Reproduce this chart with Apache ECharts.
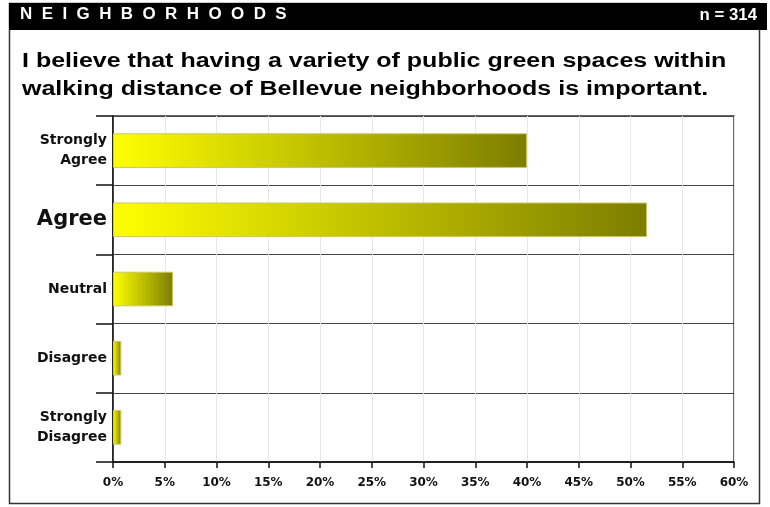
<!DOCTYPE html>
<html><head><meta charset="utf-8">
<script src="https://cdn.jsdelivr.net/npm/echarts@6/dist/echarts.min.js"></script>
<style>html,body{margin:0;padding:0;background:#fff}#c{width:770px;height:507px}</style>
</head><body><div id="c"></div>
<script>
const categories = ['Strongly\nAgree', 'Agree', 'Neutral', 'Disagree', 'Strongly\nDisagree'];
const values = [40.0, 51.6, 5.8, 0.8, 0.8];
const xTicks = [0, 5, 10, 15, 20, 25, 30, 35, 40, 45, 50, 55, 60];
const headerText = 'N  E  I  G  H  B  O  R  H  O  O  D  S';
const sampleText = 'n = 314';
const titleLines = ['I believe that having a variety of public green spaces within', 'walking distance of Bellevue neighborhoods is important.'];

const chart = echarts.init(document.getElementById('c'), null, {renderer: 'canvas'});
const F = '"Liberation Sans", Arial, sans-serif';
const FL = '"DejaVu Sans", sans-serif';
const barColor = new echarts.graphic.LinearGradient(0, 0, 1, 0, [
  {offset: 0, color: '#ffff00'}, {offset: 1, color: '#7d7d00'}
]);
chart.setOption({
  animation: false,
  graphic: [
    {type: 'rect', shape: {x: 9.5, y: 3.5, width: 750, height: 500}, style: {fill: '#fff', stroke: '#333', lineWidth: 1.5}, z: -10},
    {type: 'rect', shape: {x: 9, y: 3, width: 758, height: 27}, style: {fill: '#000'}, z: -5},
    {type: 'text', x: 20, y: 7, scaleX: 1.06, style: {text: headerText, fill: '#fff', font: 'bold 16px ' + F}},
    {type: 'text', x: 757, y: 8, scaleX: 1.05, style: {text: sampleText, fill: '#fff', font: 'bold 16px ' + F, align: 'right'}},
    {type: 'text', x: 22, y: 47, scaleX: 1.25, style: {text: titleLines.join('\n'), fill: '#000', font: 'bold 20px ' + F, lineHeight: 28}}
  ],
  grid: {left: 113, right: 36, top: 116, bottom: 45, show: true, borderColor: '#333', borderWidth: 1.5, containLabel: false},
  xAxis: {
    type: 'value', min: xTicks[0], max: xTicks[xTicks.length - 1], interval: 5,
    axisLine: {show: true, lineStyle: {color: '#111', width: 1.5}},
    axisTick: {show: true, length: 6, lineStyle: {color: '#111', width: 1.5}},
    splitLine: {show: true, lineStyle: {color: '#e8e8e8', width: 1}},
    axisLabel: {margin: 15, color: '#111', fontFamily: FL, fontWeight: 'bold', fontSize: 12, formatter: '{value}%'}
  },
  yAxis: {
    type: 'category', inverse: true, data: categories,
    axisLine: {show: true, lineStyle: {color: '#111', width: 1.5}},
    axisTick: {show: true, length: 17, lineStyle: {color: '#111', width: 1.5}},
    splitLine: {show: true, lineStyle: {color: '#444', width: 1.2}},
    axisLabel: {
      margin: 6, color: '#111', fontFamily: FL, fontWeight: 'bold', fontSize: 14, lineHeight: 20, align: 'right',
      formatter: v => v === 'Agree' ? '{big|' + v + '}' : v,
      rich: {big: {fontSize: 21, fontWeight: 'bold', fontFamily: FL, color: '#111'}}
    }
  },
  series: [{
    type: 'bar', data: values, barWidth: '50%',
    itemStyle: {color: barColor, borderColor: '#c8c860', borderWidth: 1}
  }]
});
</script></body></html>
